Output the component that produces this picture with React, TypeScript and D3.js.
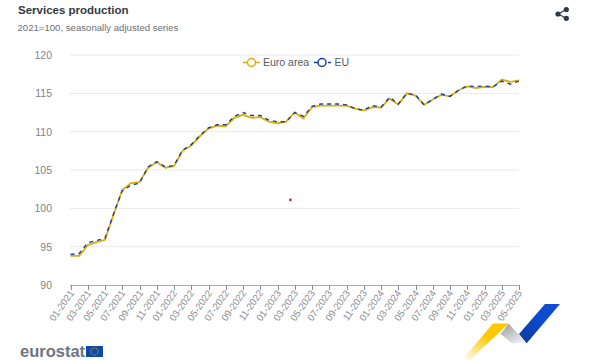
import React from "react";
import * as d3 from "d3";

const months = d3.range(0, 53).map((i) => {
  const m = (i % 12) + 1;
  const y = 2021 + Math.floor(i / 12);
  return `${String(m).padStart(2, "0")}-${y}`;
});
const tickLabels = months.filter((_, i) => i % 2 === 0);
const yTicks = [90, 95, 100, 105, 110, 115, 120];
const euroArea = [
  93.8, 93.8, 95.2, 95.6, 95.9, 99.2, 102.4, 103.3, 103.4, 105.3, 106.0, 105.3, 105.5, 107.5,
  108.2, 109.4, 110.4, 110.8, 110.7, 111.8, 112.2, 111.8, 111.9, 111.3, 111.1, 111.3, 112.5,
  111.7, 113.2, 113.4, 113.4, 113.4, 113.4, 113.0, 112.75, 113.2, 113.15, 114.3, 113.55, 115.0,
  114.7, 113.5, 114.2, 114.8, 114.6, 115.4, 115.9, 115.7, 115.85, 115.8, 116.8, 116.5, 116.7,
];
const eu = [
  94.0, 94.1, 95.5, 95.8, 96.1, 99.3, 102.3, 103.0, 103.3, 105.4, 106.1, 105.4, 105.6, 107.6,
  108.3, 109.5, 110.5, 110.9, 110.9, 112.0, 112.5, 112.1, 112.1, 111.5, 111.3, 111.3, 112.5,
  112.0, 113.3, 113.6, 113.6, 113.6, 113.5, 113.0, 112.8, 113.4, 113.2, 114.5, 113.6, 115.0,
  114.8, 113.5, 114.2, 114.9, 114.6, 115.4, 115.95, 115.9, 115.95, 115.85, 116.6, 116.2, 116.6,
];
const strayPoint = { index: 25.5, value: 101.1 };
const seriesNames = ["Euro area", "EU"];

const GOLD = "#dcae08";
const NAVY = "#1a3d99";
const FONT = "'Liberation Sans', Arial, sans-serif";

export default function App() {
  const x = d3.scaleLinear().domain([0, 52]).range([70.5, 519]);
  const y = d3.scaleLinear().domain([90, 120]).range([285, 55]);
  const line = d3
    .line<number>()
    .x((_, i) => x(i))
    .y((d) => y(d));
  return (
    <svg
      width={600}
      height={360}
      style={{ position: "fixed", left: 0, top: 0, background: "#fff" }}
      fontFamily={FONT}
    >
      <defs>
        <linearGradient id="goldG" x1="0" y1="1" x2="0.55" y2="0.35">
          <stop offset="0" stopColor="#fff" />
          <stop offset="1" stopColor="#fdc800" />
        </linearGradient>
        <linearGradient id="greyG" x1="0.2" y1="0.1" x2="0.8" y2="1">
          <stop offset="0" stopColor="#a5a7ab" />
          <stop offset="1" stopColor="#f0f1f4" />
        </linearGradient>
        <linearGradient id="blueG" x1="0.1" y1="1" x2="0.6" y2="0.4">
          <stop offset="0" stopColor="#0d3a9c" />
          <stop offset="1" stopColor="#0c4bd2" />
        </linearGradient>
      </defs>

      <text x={18} y={14} fontSize={11.5} fontWeight="bold" fill="#333a44">
        Services production
      </text>
      <text x={17.5} y={31} fontSize={9.6} fill="#6b6f76">
        2021=100, seasonally adjusted series
      </text>

      {yTicks.map((t) => (
        <g key={t}>
          {t !== 90 && (
            <line x1={70} x2={519} y1={y(t)} y2={y(t)} stroke="#e6e9f0" strokeWidth={1} />
          )}
          <text x={52} y={y(t) + 4} textAnchor="end" fontSize={10.5} fill="#808389">
            {t}
          </text>
        </g>
      ))}

      <line x1={70} x2={519} y1={285.5} y2={285.5} stroke="#a8abb0" strokeWidth={1} />
      {tickLabels.map((label, i) => {
        const px = Math.round(x(i * 2)) + 0.5;
        return (
          <g key={label}>
            <line x1={px} x2={px} y1={285} y2={290} stroke="#8a8d92" strokeWidth={1} />
            <text
              transform={`translate(${px + 3},${293}) rotate(-55)`}
              textAnchor="end"
              fontSize={9.6}
              fill="#888b91"
            >
              {label}
            </text>
          </g>
        );
      })}

      <path d={line(euroArea) ?? ""} fill="none" stroke={GOLD} strokeWidth={1.8} />
      <path
        d={line(eu) ?? ""}
        fill="none"
        stroke={NAVY}
        strokeWidth={1.4}
        strokeDasharray="4 4"
      />

      <circle cx={x(strayPoint.index)} cy={y(strayPoint.value)} r={1.3} fill="#f01a1a" />

      <g>
        <line x1={243} x2={260} y1={62.5} y2={62.5} stroke={GOLD} strokeWidth={1.5} />
        <circle cx={251.5} cy={62.5} r={4} fill="#fff" stroke={GOLD} strokeWidth={1.5} />
        <text x={263} y={66} fontSize={10.5} fill="#555a62">
          {seriesNames[0]}
        </text>
        <line x1={314} x2={331} y1={62.5} y2={62.5} stroke={NAVY} strokeWidth={1.5} strokeDasharray="4 3" />
        <circle cx={322} cy={62.5} r={4} fill="#fff" stroke={NAVY} strokeWidth={1.5} />
        <text x={334.5} y={66} fontSize={10.5} fill="#555a62">
          {seriesNames[1]}
        </text>
      </g>

      <g fill="#2f3742" stroke="#2f3742">
        <line x1={558} y1={14} x2={566.3} y2={9.5} strokeWidth={1.2} />
        <line x1={558} y1={14} x2={566.3} y2={18.3} strokeWidth={1.2} />
        <circle cx={558} cy={14} r={2.6} stroke="none" />
        <circle cx={566.3} cy={9.5} r={2.6} stroke="none" />
        <circle cx={566.3} cy={18.3} r={2.6} stroke="none" />
      </g>

      <text x={20} y={356.5} fontSize={16.5} fontWeight="bold" fill="#6f7480">
        eurostat
      </text>
      <rect x={86} y={346} width={17} height={11} fill="#0f4aa8" />
      <circle cx={94.5} cy={351.5} r={3.6} fill="none" stroke="#e2c52a" strokeWidth={0.9} strokeDasharray="1 1" />

      <polygon points="493,323.5 508.5,323.5 470,360 462,360" fill="url(#goldG)" />
      <polygon points="500.7,334 508.5,323.5 526.7,343.3 511.7,343.3" fill="url(#greyG)" />
      <polygon points="545,304 560,304 526.7,343.3 519,334" fill="url(#blueG)" />
    </svg>
  );
}
